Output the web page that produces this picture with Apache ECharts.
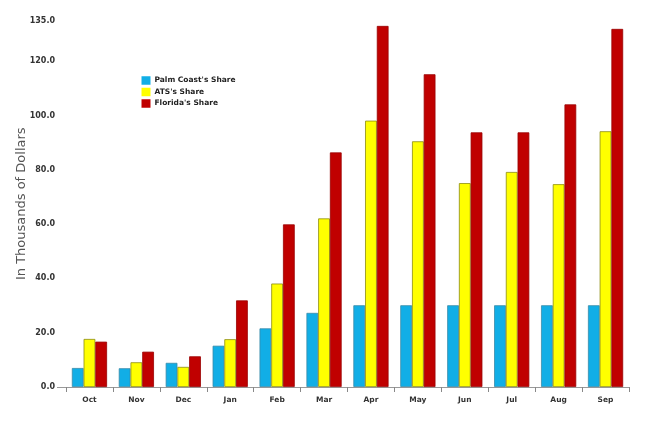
<!DOCTYPE html>
<html>
<head>
<meta charset="utf-8">
<script src="https://cdn.jsdelivr.net/npm/echarts@6/dist/echarts.min.js"></script>
<style>html,body{margin:0;padding:0;background:#fff}#c{width:650px;height:432px}</style>
</head>
<body>
<div id="c"></div>
<script>
var categories = ['Oct','Nov','Dec','Jan','Feb','Mar','Apr','May','Jun','Jul','Aug','Sep'];
var palmCoast = [7.0, 6.9, 8.9, 15.2, 21.6, 27.3, 30.1, 30.1, 30.1, 30.1, 30.1, 30.1];
var ats = [17.7, 9.1, 7.4, 17.6, 38.1, 62.1, 98.1, 90.5, 75.1, 79.2, 74.7, 94.2];
var florida = [16.7, 13.0, 11.3, 31.9, 59.9, 86.4, 133.0, 115.2, 93.8, 93.8, 104.1, 131.9];
var yTicks = [0, 20, 40, 60, 80, 100, 120, 135];
var seriesNames = ["Palm Coast's Share", "ATS's Share", "Florida's Share"];

var chart = echarts.init(document.getElementById('c'), null, {renderer: 'canvas'});
var font = 'DejaVu Sans, Verdana, sans-serif';
function bar(name, data, color, border) {
  return {
    name: name, type: 'bar', data: data,
    barGap: '0%', barCategoryGap: '25%',
    itemStyle: {color: color, borderColor: border, borderWidth: 0.8},
    emphasis: {disabled: true}
  };
}
chart.setOption({
  animation: false,
  backgroundColor: '#ffffff',
  grid: {left: 66, right: 21, top: 20.5, bottom: 45, containLabel: false},
  legend: {
    orient: 'vertical', left: 141.5, top: 76, padding: 0,
    itemWidth: 9, itemHeight: 8.5, itemGap: 2.5,
    icon: 'rect',
    itemStyle: {borderWidth: 0},
    textStyle: {fontFamily: font, fontSize: 7.5, fontWeight: 'bold', color: '#222', lineHeight: 9, padding: [0,0,0,-1]},
    data: seriesNames
  },
  xAxis: {
    type: 'category', data: categories,
    axisLine: {show: true, lineStyle: {color: '#999', width: 1}},
    axisTick: {show: true, length: 5, lineStyle: {color: '#888'}},
    axisLabel: {fontFamily: font, fontSize: 7.5, fontWeight: 'bold', color: '#333', margin: 9},
    splitLine: {show: false}
  },
  yAxis: {
    type: 'value', min: 0, max: 135,
    name: 'In Thousands of Dollars', nameLocation: 'middle', nameGap: 38,
    nameMoveOverlap: false,
    nameTextStyle: {fontFamily: font, fontSize: 13, color: '#555'},
    axisLine: {show: false}, axisTick: {show: false},
    splitLine: {show: false},
    axisLabel: {
      customValues: yTicks, fontFamily: font, fontSize: 8, fontWeight: 'bold', color: '#333', margin: 11,
      formatter: function (v) { return v.toFixed(1); }
    }
  },
  graphic: [{
    type: 'line', shape: {x1: 57, y1: 387.5, x2: 66, y2: 387.5},
    style: {stroke: '#999', lineWidth: 1}
  }],
  series: [
    bar(seriesNames[0], palmCoast, '#11aee6', '#3a8aa8'),
    bar(seriesNames[1], ats, '#ffff00', '#8c8c10'),
    bar(seriesNames[2], florida, '#c00000', '#990000')
  ]
});
</script>
</body>
</html>
